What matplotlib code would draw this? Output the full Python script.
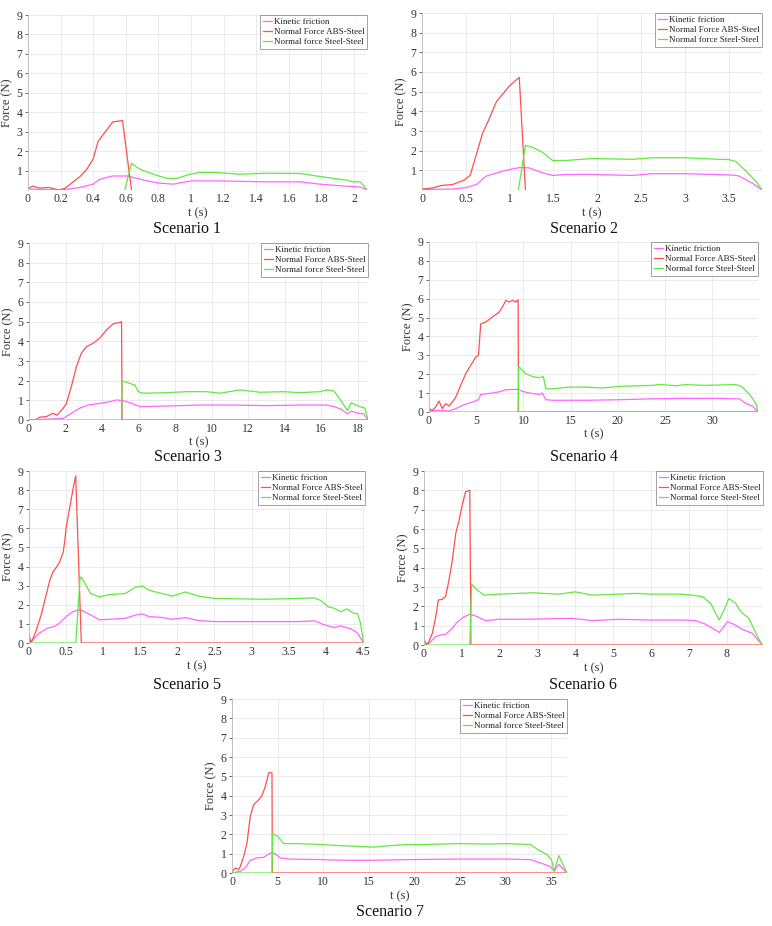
import matplotlib
matplotlib.use("Agg")
import matplotlib.pyplot as plt
from matplotlib.ticker import FuncFormatter

plt.rcParams['font.family'] = ['Liberation Serif', 'DejaVu Serif']

labels = ["Kinetic friction", "Normal Force ABS-Steel", "Normal force Steel-Steel"]
titles = ["Scenario 1", "Scenario 2", "Scenario 3", "Scenario 4", "Scenario 5", "Scenario 6", "Scenario 7"]

# ---------------- Scenario 1 ----------------
s1_kf_t = [0, 0.2, 0.32, 0.4, 0.44, 0.52, 0.61, 0.73, 0.81, 0.89, 1.0, 1.14, 1.46, 1.67, 1.79, 1.93, 1.99, 2.04, 2.08]
s1_kf = [0.05, 0.0, 0.13, 0.3, 0.55, 0.72, 0.72, 0.47, 0.35, 0.3, 0.47, 0.47, 0.42, 0.42, 0.3, 0.21, 0.18, 0.15, 0.0]
s1_ab_t = [0, 0.03, 0.07, 0.13, 0.19, 0.225, 0.32, 0.36, 0.4, 0.43, 0.52, 0.58, 0.635]
s1_ab = [0.08, 0.2, 0.1, 0.13, 0.0, 0.08, 0.7, 1.05, 1.6, 2.5, 3.5, 3.57, 0.0]
s1_ss_t = [0.594, 0.635, 0.686, 0.77, 0.85, 0.91, 0.99, 1.05, 1.16, 1.3, 1.46, 1.67, 1.77, 1.87, 1.96, 1.99, 2.04, 2.08]
s1_ss = [0.0, 1.37, 1.07, 0.81, 0.6, 0.59, 0.8, 0.9, 0.9, 0.81, 0.86, 0.85, 0.72, 0.6, 0.5, 0.42, 0.42, 0.0]

# ---------------- Scenario 2 ----------------
s2_kf_t = [0, 0.35, 0.5, 0.62, 0.73, 0.92, 1.11, 1.22, 1.37, 1.49, 1.64, 1.94, 2.4, 2.63, 3.0, 3.39, 3.54, 3.61, 3.77, 3.88]
s2_kf = [0.02, 0.05, 0.12, 0.28, 0.7, 0.96, 1.14, 1.13, 0.88, 0.74, 0.79, 0.79, 0.74, 0.83, 0.83, 0.78, 0.76, 0.72, 0.35, 0.0]
s2_ab_t = [0, 0.12, 0.22, 0.35, 0.48, 0.55, 0.6, 0.69, 0.75, 0.85, 1.0, 1.11, 1.18]
s2_ab = [0.05, 0.1, 0.23, 0.28, 0.5, 0.75, 1.5, 2.87, 3.45, 4.5, 5.3, 5.73, 0.0]
s2_ss_t = [1.1, 1.18, 1.26, 1.37, 1.49, 1.64, 1.94, 2.4, 2.63, 3.0, 3.39, 3.5, 3.58, 3.69, 3.82, 3.88]
s2_ss = [0.0, 2.27, 2.18, 1.93, 1.5, 1.5, 1.6, 1.56, 1.64, 1.64, 1.56, 1.55, 1.45, 1.0, 0.4, 0.0]

# ---------------- Scenario 3 ----------------
s3_kf_t = [0, 1.87, 2.32, 2.77, 3.24, 3.88, 4.43, 4.79, 5.16, 5.62, 6.07, 7.54, 9.37, 11.2, 13.0, 14.85, 16.3, 16.7, 17.1, 17.45, 17.65, 18.0, 18.33, 18.57]
s3_kf = [0.0, 0.08, 0.34, 0.6, 0.76, 0.85, 0.93, 1.02, 0.98, 0.85, 0.68, 0.71, 0.76, 0.76, 0.73, 0.76, 0.76, 0.68, 0.55, 0.31, 0.45, 0.35, 0.31, 0.0]
s3_ab_t = [0, 0.4, 0.59, 0.95, 1.3, 1.54, 1.87, 2.05, 2.32, 2.6, 2.87, 3.15, 3.5, 3.88, 4.24, 4.61, 4.98, 5.07, 5.1, 18.57]
s3_ab = [0.0, 0.03, 0.14, 0.17, 0.34, 0.25, 0.59, 0.85, 1.7, 2.72, 3.4, 3.73, 3.9, 4.16, 4.58, 4.89, 4.96, 5.0, 0.0, 0.0]
s3_ss_t = [0, 5.07, 5.1, 5.62, 5.8, 5.98, 6.26, 7.54, 8.63, 9.73, 10.46, 11.56, 12.66, 13.93, 14.85, 15.95, 16.3, 16.7, 17.0, 17.45, 17.65, 18.0, 18.4, 18.57]
s3_ss = [0.0, 0.0, 2.0, 1.83, 1.78, 1.44, 1.36, 1.39, 1.44, 1.44, 1.36, 1.53, 1.41, 1.44, 1.39, 1.44, 1.53, 1.48, 1.1, 0.48, 0.88, 0.72, 0.6, 0.0]

# ---------------- Scenario 4 ----------------
s4_kf_t = [0, 1.06, 2.12, 2.83, 3.54, 4.6, 5.24, 5.48, 6.72, 7.6, 8.14, 9.44, 9.9, 11.0, 11.67, 12.0, 12.38, 13.1, 16.6, 20.2, 23.7, 27.2, 30.8, 32.9, 33.6, 34.3, 34.84]
s4_kf = [0.05, 0.09, 0.05, 0.18, 0.35, 0.53, 0.65, 0.93, 1.0, 1.09, 1.18, 1.2, 1.09, 0.97, 0.93, 1.0, 0.65, 0.62, 0.62, 0.65, 0.7, 0.72, 0.72, 0.69, 0.44, 0.3, 0.0]
s4_ab_t = [0, 0.35, 0.7, 1.06, 1.41, 1.77, 2.12, 2.48, 2.83, 3.36, 3.89, 4.42, 4.95, 5.24, 5.48, 6.01, 6.72, 7.43, 7.78, 8.14, 8.49, 8.84, 9.2, 9.44, 9.48, 34.84]
s4_ab = [0.18, 0.09, 0.26, 0.58, 0.18, 0.44, 0.32, 0.53, 0.79, 1.41, 2.03, 2.47, 2.91, 3.0, 4.67, 4.76, 5.03, 5.29, 5.56, 5.91, 5.82, 5.91, 5.82, 5.94, 0.0, 0.0]
s4_ss_t = [0, 9.44, 9.5, 10.26, 11.14, 11.85, 12.1, 12.38, 13.1, 14.86, 16.6, 18.4, 20.2, 21.9, 23.7, 24.4, 26.2, 27.2, 29.0, 30.8, 32.5, 33.1, 33.95, 34.3, 34.7, 34.84]
s4_ss = [0.0, 0.0, 2.42, 2.03, 1.85, 1.82, 1.89, 1.23, 1.23, 1.32, 1.32, 1.27, 1.36, 1.38, 1.41, 1.46, 1.39, 1.45, 1.41, 1.43, 1.45, 1.36, 0.93, 0.7, 0.35, 0.0]

# ---------------- Scenario 5 ----------------
s5_kf_t = [0, 0.05, 0.14, 0.25, 0.34, 0.41, 0.5, 0.59, 0.66, 0.72, 0.83, 0.95, 1.08, 1.3, 1.44, 1.53, 1.62, 1.79, 1.93, 2.11, 2.29, 2.51, 3.18, 3.63, 3.85, 3.98, 4.12, 4.2, 4.34, 4.43, 4.51]
s5_kf = [0.0, 0.17, 0.52, 0.78, 0.86, 1.03, 1.38, 1.64, 1.72, 1.69, 1.47, 1.21, 1.24, 1.29, 1.47, 1.52, 1.38, 1.34, 1.24, 1.33, 1.17, 1.12, 1.12, 1.12, 1.16, 0.95, 0.81, 0.9, 0.74, 0.52, 0.0]
s5_ab_t = [0, 0.03, 0.1, 0.17, 0.23, 0.28, 0.32, 0.37, 0.41, 0.46, 0.48, 0.5, 0.55, 0.6, 0.63, 0.705, 4.51]
s5_ab = [0.43, 0.0, 0.69, 1.55, 2.5, 3.28, 3.7, 3.97, 4.22, 4.74, 5.26, 6.03, 7.1, 8.2, 8.75, 0.0, 0.0]
s5_ss_t = [0, 0.63, 0.69, 0.72, 0.83, 0.95, 1.08, 1.3, 1.44, 1.53, 1.62, 1.79, 1.93, 2.11, 2.29, 2.51, 3.18, 3.63, 3.85, 3.94, 4.03, 4.12, 4.2, 4.29, 4.38, 4.43, 4.47, 4.51]
s5_ss = [0.0, 0.0, 3.45, 3.36, 2.59, 2.41, 2.53, 2.59, 2.93, 2.98, 2.76, 2.59, 2.45, 2.67, 2.45, 2.33, 2.29, 2.33, 2.36, 2.21, 1.9, 1.81, 1.64, 1.78, 1.55, 1.52, 1.03, 0.0]

# ---------------- Scenario 6 ----------------
s6_kf_t = [0, 0.13, 0.31, 0.44, 0.57, 0.75, 0.88, 1.06, 1.23, 1.41, 1.63, 1.98, 2.51, 2.95, 3.92, 4.45, 5.15, 6.03, 6.92, 7.18, 7.44, 7.71, 7.8, 7.89, 8.02, 8.24, 8.41, 8.68, 8.94]
s6_kf = [0.0, 0.09, 0.43, 0.52, 0.55, 0.86, 1.2, 1.46, 1.6, 1.46, 1.26, 1.33, 1.33, 1.34, 1.38, 1.26, 1.33, 1.29, 1.29, 1.26, 1.08, 0.77, 0.65, 0.86, 1.2, 1.03, 0.81, 0.6, 0.0]
s6_ab_t = [0, 0.09, 0.22, 0.31, 0.38, 0.48, 0.57, 0.66, 0.75, 0.84, 0.93, 1.01, 1.1, 1.21, 1.24, 8.94]
s6_ab = [0.26, 0.0, 0.6, 1.46, 2.33, 2.36, 2.5, 3.36, 4.4, 5.78, 6.47, 7.24, 7.93, 8.0, 0.0, 0.0]
s6_ss_t = [0, 1.21, 1.26, 1.41, 1.59, 1.98, 2.51, 2.86, 3.57, 4.0, 4.45, 5.15, 5.59, 6.03, 6.74, 7.09, 7.36, 7.58, 7.71, 7.8, 7.93, 8.06, 8.24, 8.37, 8.59, 8.77, 8.94]
s6_ss = [0.0, 0.0, 3.15, 2.84, 2.58, 2.63, 2.67, 2.7, 2.63, 2.75, 2.58, 2.63, 2.67, 2.63, 2.63, 2.58, 2.5, 2.15, 1.64, 1.29, 1.81, 2.41, 2.15, 1.72, 1.38, 0.6, 0.0]

# ---------------- Scenario 7 ----------------
s7_kf_t = [0, 0.91, 1.46, 2.0, 2.74, 3.47, 4.2, 4.74, 5.29, 6.39, 10.0, 11.9, 15.5, 19.2, 24.6, 30.1, 32.7, 33.8, 34.85, 35.3, 35.8, 36.1, 36.7]
s7_kf = [0.0, 0.09, 0.26, 0.66, 0.78, 0.81, 1.03, 1.0, 0.78, 0.72, 0.69, 0.66, 0.66, 0.69, 0.72, 0.72, 0.69, 0.52, 0.34, 0.09, 0.45, 0.3, 0.0]
s7_ab_t = [0, 0.36, 0.73, 0.91, 1.28, 1.64, 2.0, 2.37, 2.92, 3.28, 3.65, 4.01, 4.2, 4.38, 4.42, 36.7]
s7_ab = [0.03, 0.26, 0.17, 0.34, 0.86, 1.55, 2.93, 3.53, 3.79, 4.0, 4.48, 5.17, 5.2, 5.17, 0.0, 0.0]
s7_ss_t = [0, 4.38, 4.45, 5.0, 5.66, 7.12, 10.0, 11.9, 13.7, 15.5, 17.3, 19.2, 21.0, 24.6, 28.3, 30.1, 32.7, 33.4, 34.5, 35.0, 35.3, 35.8, 36.7]
s7_ss = [0.0, 0.0, 2.03, 1.9, 1.52, 1.52, 1.47, 1.41, 1.38, 1.34, 1.41, 1.47, 1.47, 1.52, 1.5, 1.52, 1.47, 1.24, 0.95, 0.69, 0.09, 0.9, 0.0]

scen = [
    (s1_kf_t, s1_kf, s1_ab_t, s1_ab, s1_ss_t, s1_ss),
    (s2_kf_t, s2_kf, s2_ab_t, s2_ab, s2_ss_t, s2_ss),
    (s3_kf_t, s3_kf, s3_ab_t, s3_ab, s3_ss_t, s3_ss),
    (s4_kf_t, s4_kf, s4_ab_t, s4_ab, s4_ss_t, s4_ss),
    (s5_kf_t, s5_kf, s5_ab_t, s5_ab, s5_ss_t, s5_ss),
    (s6_kf_t, s6_kf, s6_ab_t, s6_ab, s6_ss_t, s6_ss),
    (s7_kf_t, s7_kf, s7_ab_t, s7_ab, s7_ss_t, s7_ss),
]
xmax = [2.08, 3.88, 18.57, 34.85, 4.53, 8.96, 36.7]
xstep = [0.2, 0.5, 2, 5, 0.5, 1, 5]
xtick_max = [2, 3.5, 18, 30, 4.5, 8, 35]
ymin_tick = [1, 1, 0, 0, 0, 0, 0]

# pixel boxes (left, right, top, bottom)
W, H = 772, 926
boxes = [(28, 367, 15, 190), (422, 762, 13, 190), (29, 368, 243, 420), (429, 758, 242, 412),
         (29, 365, 471, 643), (424, 763, 471, 645), (232, 567, 699, 873)]
xlab_y = [213, 213, 442, 434, 666, 668, 896]
title_xy = [(187, 229), (584, 229), (188, 457), (584, 457), (187, 685), (583, 685), (390, 912)]

c_kf = '#ff66ff'
c_ab = '#ff4f4f'
c_ss = '#62e840'

fig = plt.figure(figsize=(W / 100, H / 100), dpi=100)

def fmt(v, pos):
    return ('%g' % round(v, 3))

for i, (kt, kv, at, av, st, sv) in enumerate(scen):
    l, r, t, b = boxes[i]
    ax = fig.add_axes([l / W, 1 - b / H, (r - l) / W, (b - t) / H])
    ax.plot(kt, kv, color=c_kf, lw=0.9, label=labels[0])
    ax.plot(at, av, color=c_ab, lw=0.9, label=labels[1])
    ax.plot(st, sv, color=c_ss, lw=0.9, label=labels[2])
    ax.set_xlim(0, xmax[i])
    ax.set_ylim(0, 9)
    n = int(round(xtick_max[i] / xstep[i]))
    ax.set_xticks([k * xstep[i] for k in range(n + 1)])
    ax.set_yticks(list(range(ymin_tick[i], 10)))
    ax.xaxis.set_major_formatter(FuncFormatter(fmt))
    ax.grid(True, color='#e8e8e8', lw=0.6)
    ax.set_axisbelow(True)
    for s in ['top', 'right', 'bottom']:
        ax.spines[s].set_visible(False)
    ax.spines['left'].set_color('#bbbbbb')
    ax.spines['left'].set_linewidth(0.6)
    ax.tick_params(axis='y', length=2.5, width=0.6, color='#555555', labelsize=8.5, pad=1.5, labelcolor='#333333')
    ax.tick_params(axis='x', length=0, labelsize=8.5, pad=2.5, labelcolor='#333333')
    ax.set_ylabel('Force (N)', fontsize=9, color='#333333', labelpad=2)
    fig.text((l + r) / 2 / W, 1 - xlab_y[i] / H, 't (s)', ha='center', va='center', fontsize=9, color='#333333')
    tx, ty = title_xy[i]
    fig.text(tx / W, 1 - ty / H, titles[i], ha='center', va='center', fontsize=11.5, color='#111111')
    leg = ax.legend(loc='upper right', fontsize=6.5, frameon=True, fancybox=False, borderaxespad=0,
                    handlelength=1.0, handletextpad=0.2, labelspacing=0.2, borderpad=0.3)
    leg.get_frame().set_edgecolor('#777777')
    leg.get_frame().set_linewidth(0.6)
    for txt in leg.get_texts():
        txt.set_color('#222222')

fig.savefig('out.png', dpi=100)
